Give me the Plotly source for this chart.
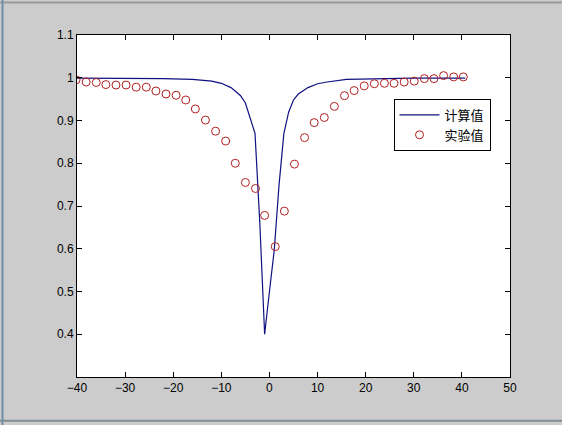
import plotly.graph_objects as go

# computed curve (计算值)
calc_x = [-40, -30, -22, -16, -12, -10, -8, -7, -6, -5, -4, -3, -2, -1,
          0, 1, 2, 3, 4, 5, 6, 8, 10, 12, 16, 22, 30, 40.7]
calc_y = [0.999, 0.999, 0.998, 0.996, 0.992, 0.987, 0.977, 0.968, 0.958, 0.941,
          0.905, 0.87, 0.66, 0.40,
          0.50, 0.597, 0.75, 0.87, 0.92, 0.948, 0.962, 0.977, 0.986, 0.990,
          0.996, 0.998, 0.999, 0.999]

# measured points (实验值)
exp_x = [-40.2, -38.1, -36.0, -34.0, -31.9, -29.8, -27.7, -25.6, -23.6, -21.5,
         -19.4, -17.4, -15.4, -13.3, -11.2, -9.1, -7.1, -5.0, -2.9, -1.0,
         1.2, 3.1, 5.2, 7.3, 9.3, 11.4, 13.5, 15.6, 17.6, 19.7,
         21.8, 23.9, 25.9, 28.0, 30.1, 32.2, 34.2, 36.2, 38.3, 40.3]
exp_y = [0.995, 0.990, 0.989, 0.984, 0.983, 0.983, 0.978, 0.978, 0.969, 0.962,
         0.959, 0.948, 0.927, 0.901, 0.875, 0.852, 0.800, 0.755, 0.741, 0.678,
         0.605, 0.688, 0.798, 0.860, 0.895, 0.907, 0.933, 0.958, 0.970, 0.981,
         0.986, 0.987, 0.987, 0.990, 0.992, 0.998, 0.998, 1.005, 1.002, 1.002]

x_ticks = [-40, -30, -20, -10, 0, 10, 20, 30, 40, 50]
y_ticks = [0.4, 0.5, 0.6, 0.7, 0.8, 0.9, 1.0, 1.1]
y_labels = ['0.4', '0.5', '0.6', '0.7', '0.8', '0.9', '1', '1.1']

fig = go.Figure()
fig.add_trace(go.Scatter(
    x=calc_x, y=calc_y, mode='lines', name='计算值',
    line=dict(color='#101080', width=1.2),
))
fig.add_trace(go.Scatter(
    x=exp_x, y=exp_y, mode='markers', name='实验值',
    marker=dict(symbol='circle-open', size=8, color='#b02020',
                line=dict(width=1, color='#b02020')),
))

axis_common = dict(
    showgrid=False, zeroline=False, showline=True, linecolor='black',
    linewidth=1, mirror='ticks', ticks='inside', ticklen=5,
    tickcolor='black', tickfont=dict(family='Liberation Sans', size=12,
                                     color='black'),
)
fig.update_xaxes(range=[-40, 50], tickvals=x_ticks, **axis_common)
fig.update_yaxes(range=[0.3, 1.1], tickvals=y_ticks, ticktext=y_labels,
                 **axis_common)

# window frame lines of the screenshot
fig.add_shape(type='line', xref='paper', yref='paper', x0=-0.2, x1=1.2,
              y0=1.095, y1=1.095, line=dict(color='#9a9a9a', width=2))
fig.add_shape(type='line', xref='paper', yref='paper', x0=-0.172, x1=-0.172,
              y0=-0.2, y1=1.2, line=dict(color='#6f8fa8', width=2))
fig.add_shape(type='line', xref='paper', yref='paper', x0=-0.2, x1=1.2,
              y0=-0.128, y1=-0.128, line=dict(color='#7f8f9a', width=2))

fig.update_layout(
    width=562, height=425,
    margin=dict(l=77, r=52, t=35, b=48),
    paper_bgcolor='#cccccc', plot_bgcolor='white',
    showlegend=True,
    legend=dict(
        x=0.955, y=0.813, xanchor='right', yanchor='top',
        bgcolor='white', bordercolor='black', borderwidth=1,
        font=dict(family='Noto Sans CJK SC', size=13, color='black'),
        itemwidth=40, tracegroupgap=0,
    ),
)

fig.write_html('out.html', config={'displayModeBar': False},
               post_script="document.body.style.margin='0';"
                           "document.body.style.overflow='hidden';")
